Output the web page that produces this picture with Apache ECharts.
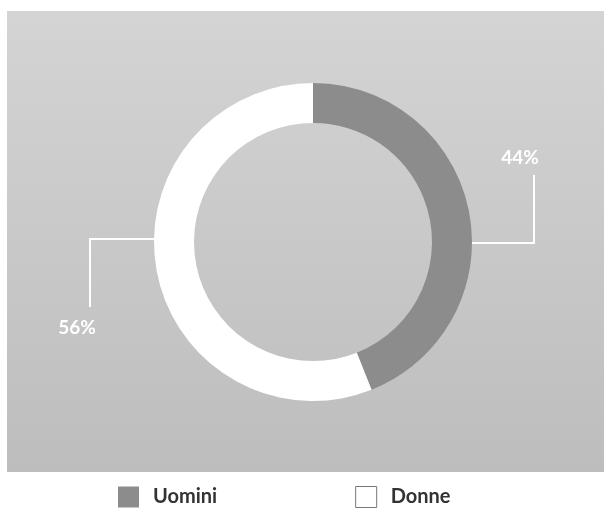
<!DOCTYPE html>
<html>
<head>
<meta charset="utf-8">
<script src="https://cdn.jsdelivr.net/npm/echarts@6/dist/echarts.min.js"></script>
<style>
html,body{margin:0;padding:0;background:#fff;}
#main{width:606px;height:515px;}
</style>
</head>
<body>
<div id="main"></div>
<script>
// dati
var categories = ['Uomini', 'Donne'];
var values = [44, 56];
var colors = ['#8c8c8c', '#ffffff'];

var cx = 313, cy = 242;

var myChart = echarts.init(document.getElementById('main'));

// posizioni etichette e linee guida
function layoutLabel(params) {
	if (params.dataIndex === 0) {
		return {
			x: 520, y: 158, align: 'center', verticalAlign: 'middle',
			labelLinePoints: [[cx + 134, cy + 1], [cx + 221, cy + 1], [cx + 221, 175]]
		};
	}
	return {
		x: 77, y: 328, align: 'center', verticalAlign: 'middle',
		labelLinePoints: [[cx - 158, cy - 3], [cx - 223, cy - 3], [cx - 223, 307]]
	};
}

var option = {
	backgroundColor: '#ffffff',
	animation: false,
	graphic: [{
		type: 'rect',
		z: -10,
		shape: { x: 7, y: 11, width: 597, height: 461 },
		style: {
			fill: new echarts.graphic.LinearGradient(0, 0, 0, 1, [
				{ offset: 0, color: '#d4d4d4' },
				{ offset: 1, color: '#bdbdbd' }
			])
		}
	}],
	legend: {
		top: 486,
		left: 118,
		padding: 0,
		itemGap: 138,
		itemWidth: 21,
		itemHeight: 21,
		icon: 'rect',
		textStyle: { fontFamily: 'Lato', fontWeight: 'bold', fontSize: 20, color: '#333', padding: [0, 0, 0, 9] },
		data: categories.map(function (c, i) {
			return { name: c, itemStyle: { color: colors[i], borderColor: i === 1 ? '#777' : colors[i], borderWidth: i === 1 ? 1 : 0 } };
		})
	},
	series: [{
		type: 'pie',
		center: [cx, cy],
		radius: [119, 159],
		startAngle: 90,
		clockwise: true,
		silent: true,
		itemStyle: { borderWidth: 0 },
		label: {
			show: true,
			position: 'outside',
			formatter: '{c}%',
			color: '#ffffff',
			fontFamily: 'Lato',
			fontWeight: 'bold',
			fontSize: 19
		},
		labelLine: { show: true, showAbove: true, lineStyle: { color: '#ffffff', width: 2 } },
		labelLayout: layoutLabel,
		data: categories.map(function (c, i) {
			return { name: c, value: values[i], itemStyle: { color: colors[i] } };
		})
	}]
};

myChart.setOption(option);
</script>
</body>
</html>
